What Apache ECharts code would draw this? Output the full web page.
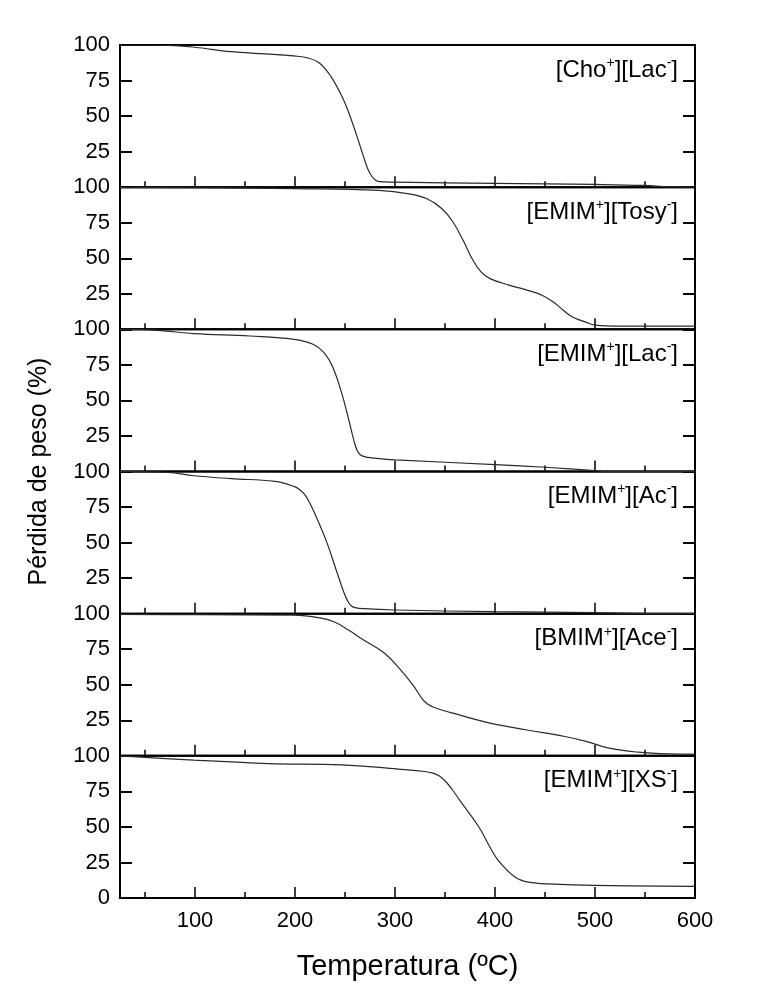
<!DOCTYPE html>
<html>
<head>
<meta charset="utf-8">
<script src="https://cdn.jsdelivr.net/npm/echarts@6/dist/echarts.min.js"></script>
<style>
  html, body { margin: 0; padding: 0; background: #fff; }
  #chart { width: 757px; height: 999px; }
</style>
</head>
<body>
<div id="chart"></div>
<script>
// Thermogravimetric curves: weight (%) vs temperature (ºC), one panel per ionic liquid
const choLacT  = [25, 60, 80, 100, 136, 170, 199, 214, 225, 236, 247, 254, 262, 266, 269, 273, 277, 280, 283, 290, 300, 400, 500, 550, 573, 600];
const choLacW  = [100, 100, 99.5, 98.4, 95.3, 93.8, 92.3, 90.7, 87, 77.8, 63.8, 52, 35.7, 27, 20.5, 12.5, 7.5, 5.2, 4.1, 3.7, 3.5, 2.6, 1.9, 1.2, 0.2, 0];

const emimTosyT = [25, 100, 200, 284, 314, 332, 347, 358, 369, 377, 386, 395, 414, 432, 447, 458, 468, 477, 492, 500, 525, 600];
const emimTosyW = [99.8, 99.6, 99, 97.7, 95.3, 91.8, 84.8, 75.5, 61.4, 49.8, 40.4, 35.7, 31.1, 27.6, 24, 19.4, 13.6, 8.9, 4.7, 3, 2.3, 2.3];

const emimLacT = [25, 62, 99, 155, 199, 218, 229, 238, 247, 254, 259, 262, 265, 270, 277, 300, 400, 450, 500, 510, 600];
const emimLacW = [100, 99.3, 97, 95.3, 93, 89.5, 83.6, 73, 54.4, 35.7, 21.5, 15, 12, 10.3, 9.6, 8.2, 4.9, 3, 0.7, 0, 0];

const emimAcT  = [25, 73, 99, 136, 180, 199, 205, 210, 215, 221, 232, 241, 249, 253, 256, 260, 269, 300, 400, 500, 573, 600];
const emimAcW  = [100, 99.3, 97, 95, 93, 89.5, 87, 83.5, 77.5, 68.5, 49.8, 31.1, 14.7, 8.5, 5.6, 4.3, 3.5, 2.6, 1.4, 0.7, 0, 0];

const bmimAceT = [25, 100, 199, 225, 240, 254, 269, 288, 303, 318, 328, 333, 338, 358, 395, 432, 470, 492, 514, 543, 573, 600];
const bmimAceW = [99.5, 99.3, 99, 97, 94, 88.3, 81.3, 73, 62.6, 49.8, 39.3, 36.3, 34.4, 30, 23, 18.2, 13.6, 10, 5.4, 2.6, 1.4, 1.2];

const emimXsT  = [25, 99, 173, 247, 303, 330, 338, 344, 350, 357, 365, 384, 395, 402, 414, 420, 426, 432, 440, 450, 500, 600];
const emimXsW  = [100, 97, 94.6, 93.7, 90.7, 89, 87.8, 86, 82.5, 76.5, 68.5, 49.8, 35.7, 27.6, 18.2, 14.8, 12.6, 11.4, 10.6, 10, 8.9, 8.2];

// panel labels: [cation, anion]
const panelNames = [
  ['Cho', 'Lac'], ['EMIM', 'Tosy'], ['EMIM', 'Lac'],
  ['EMIM', 'Ac'], ['BMIM', 'Ace'], ['EMIM', 'XS']
];
const panelData = [
  [choLacT, choLacW], [emimTosyT, emimTosyW], [emimLacT, emimLacW],
  [emimAcT, emimAcW], [bmimAceT, bmimAceW], [emimXsT, emimXsW]
];

const majorX = [100, 200, 300, 400, 500, 600];
const minorX = [50, 150, 250, 350, 450, 550];
const xTitle = 'Temperatura (ºC)';
const yTitle = 'Pérdida de peso (%)';

const FONT = '"Liberation Sans", Arial, sans-serif';
const LEFT = 120, WIDTH = 575, TOP = 45, PANEL_H = 142.17;
const n = panelNames.length;

const grids = [], xAxes = [], yAxes = [], series = [], graphics = [];

for (let i = 0; i < n; i++) {
  const top = TOP + i * PANEL_H;
  const last = i === n - 1;
  grids.push({
    left: LEFT, width: WIDTH, top: top, height: PANEL_H,
    show: true, borderColor: '#000', borderWidth: 2, backgroundColor: 'transparent'
  });
  // major x ticks (+ labels on the bottom panel)
  xAxes.push({
    type: 'value', gridIndex: i, min: 25, max: 600, position: 'bottom',
    axisLine: { show: false },
    splitLine: { show: false },
    axisTick: { show: true, inside: true, length: 11, customValues: majorX,
                lineStyle: { color: '#000', width: 1.5 } },
    axisLabel: { show: last, customValues: majorX, margin: 12,
                 fontFamily: FONT, fontSize: 22, color: '#000' },
    name: last ? xTitle : '', nameLocation: 'middle', nameGap: 54,
    nameTextStyle: { fontFamily: FONT, fontSize: 29, color: '#000' }
  });
  // minor x ticks
  xAxes.push({
    type: 'value', gridIndex: i, min: 25, max: 600, position: 'bottom',
    axisLine: { show: false }, splitLine: { show: false },
    axisTick: { show: true, inside: true, length: 6, customValues: minorX,
                lineStyle: { color: '#000', width: 1.5 } },
    axisLabel: { show: false }
  });
  yAxes.push({
    type: 'value', gridIndex: i, min: 0, max: 100, interval: 25, position: 'left',
    axisLine: { show: false }, splitLine: { show: false },
    axisTick: { show: true, inside: true, length: 12, lineStyle: { color: '#000', width: 2 } },
    axisLabel: { showMinLabel: last, margin: 10, fontFamily: FONT, fontSize: 22, color: '#000' }
  });
  yAxes.push({
    type: 'value', gridIndex: i, min: 0, max: 100, interval: 25, position: 'right',
    axisLine: { show: false }, splitLine: { show: false },
    axisTick: { show: true, inside: true, length: 12, lineStyle: { color: '#000', width: 2 } },
    axisLabel: { show: false }
  });
  const [tx, wy] = panelData[i];
  series.push({
    type: 'line', xAxisIndex: 2 * i, yAxisIndex: 2 * i,
    data: tx.map((t, k) => [t, wy[k]]),
    showSymbol: false, smooth: 0.4, silent: true,
    lineStyle: { color: '#2a2a2a', width: 1.2 }
  });
  const [cat, an] = panelNames[i];
  graphics.push({
    type: 'text', right: 757 - 678, top: top + 11,
    style: {
      text: '{n|[' + cat + '}{s|+}{n|][' + an + '}{s|-}{n|]}',
      rich: {
        n: { fontFamily: FONT, fontSize: 24, color: '#000', lineHeight: 28 },
        s: { fontFamily: FONT, fontSize: 14, color: '#000', verticalAlign: 'top', lineHeight: 28 }
      }
    }
  });
}

graphics.push({
  type: 'text', x: 39, y: TOP + n * PANEL_H / 2, rotation: Math.PI / 2,
  style: { text: yTitle, fontFamily: FONT, fontSize: 25, fill: '#000',
           textAlign: 'center', textVerticalAlign: 'middle' }
});

const chart = echarts.init(document.getElementById('chart'), null, { renderer: 'canvas' });
chart.setOption({
  animation: false,
  backgroundColor: '#fff',
  grid: grids, xAxis: xAxes, yAxis: yAxes, series: series,
  graphic: graphics
});
</script>
</body>
</html>
